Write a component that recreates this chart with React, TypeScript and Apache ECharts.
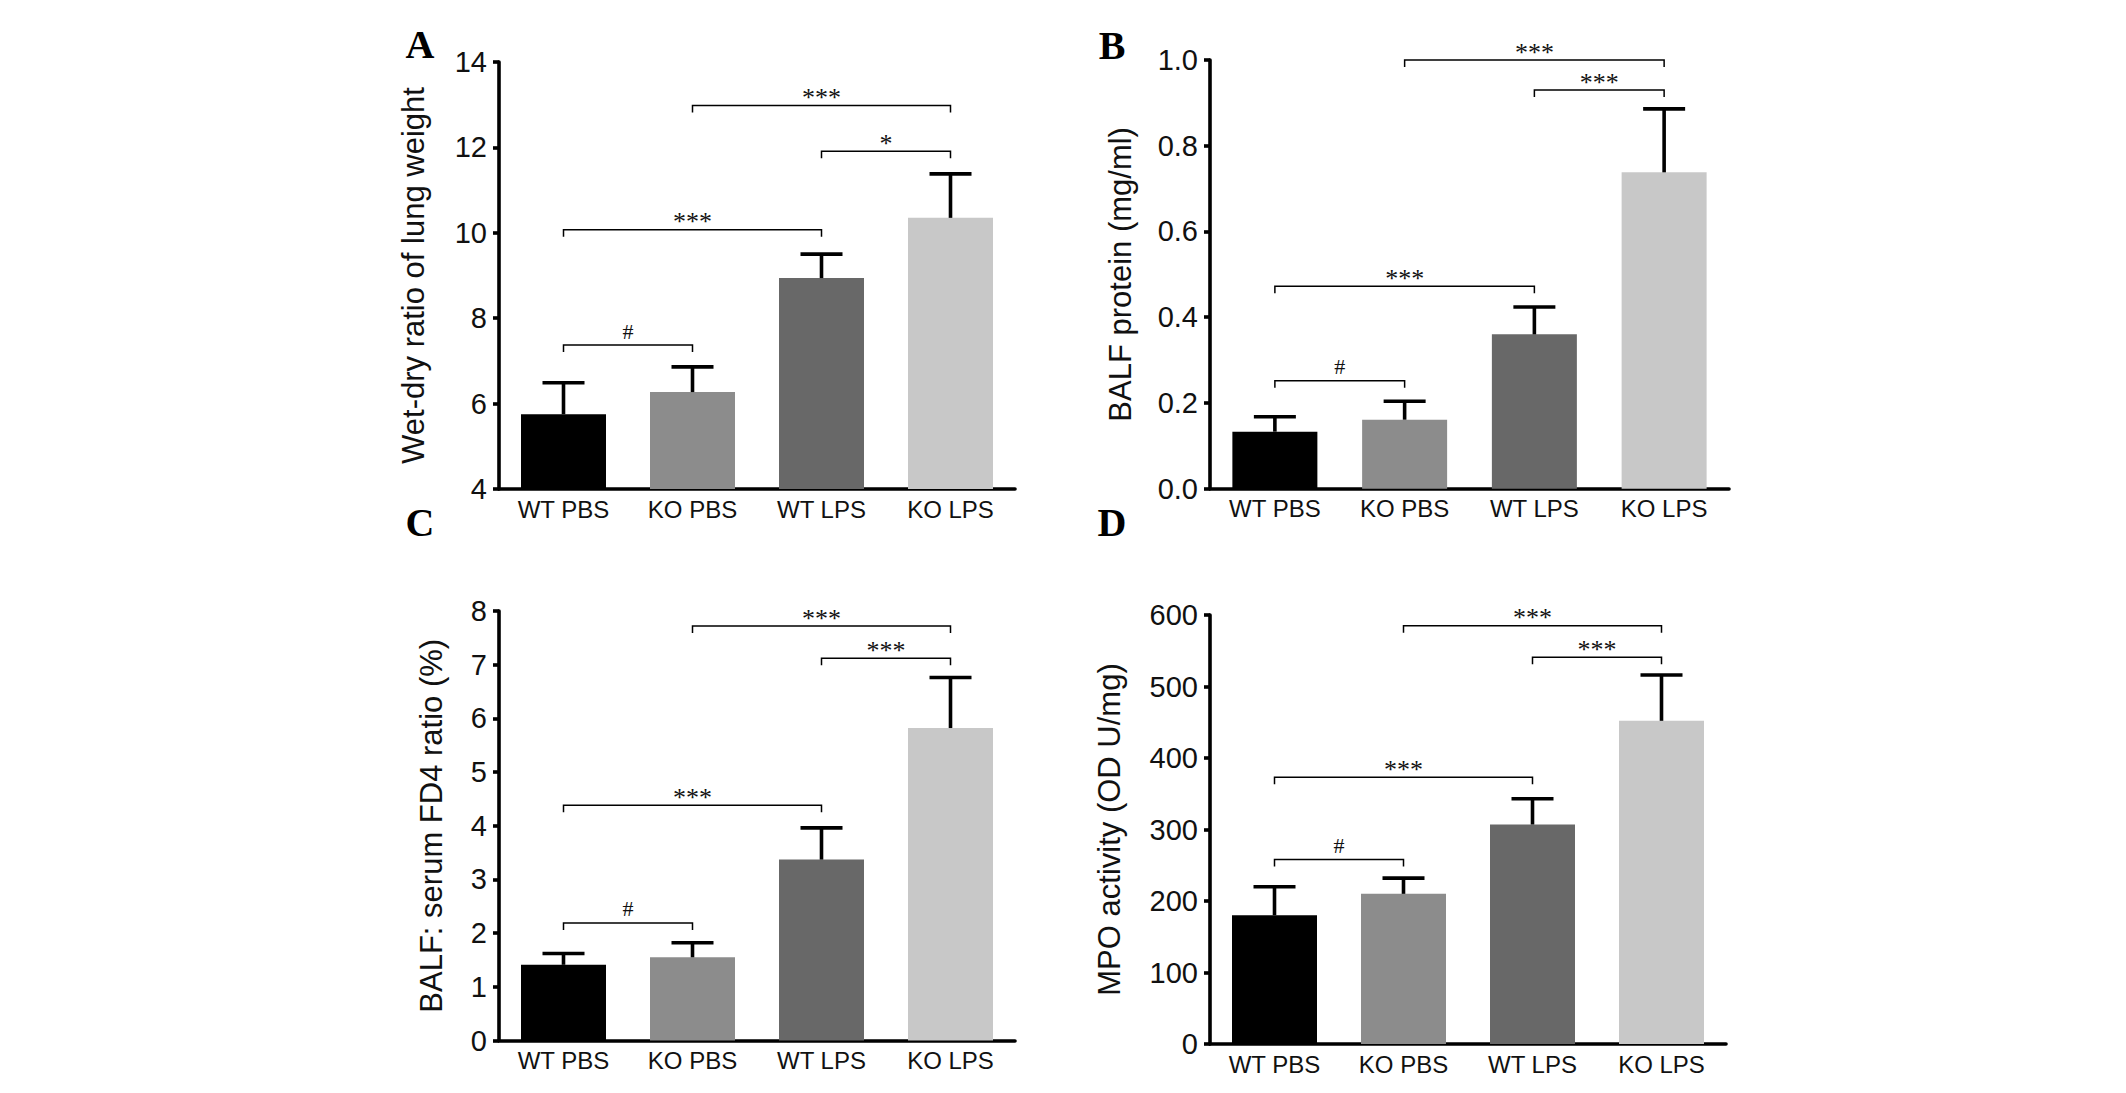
import React, { useEffect, useRef } from "react";
import * as echarts from "echarts";

const categories = ["WT PBS", "KO PBS", "WT LPS", "KO LPS"];
const barColors = ["#000000", "#8c8c8c", "#686868", "#c8c8c8"];

// Panel A: wet-dry ratio
const wetDryMeans = [5.75, 6.27, 8.94, 10.35];
const wetDryErrors = [0.74, 0.59, 0.56, 1.03];
const wetDryBrackets: [number, number, number, string][] = [
  [0, 1, 7.37, "#"],
  [0, 2, 10.07, "***"],
  [2, 3, 11.91, "*"],
  [1, 3, 12.98, "***"],
];
const wetDryTicks = { min: 4, max: 14, interval: 2 };

// Panel B: BALF protein
const balfMeans = [0.133, 0.161, 0.36, 0.738];
const balfErrors = [0.035, 0.043, 0.064, 0.148];
const balfBrackets: [number, number, number, string][] = [
  [0, 1, 0.252, "#"],
  [0, 2, 0.472, "***"],
  [2, 3, 0.93, "***"],
  [1, 3, 1.0, "***"],
];
const balfTicks = { min: 0, max: 1, interval: 0.2 };

// Panel C: BALF:serum FD4 ratio
const fd4Means = [1.41, 1.55, 3.37, 5.82];
const fd4Errors = [0.21, 0.27, 0.59, 0.94];
const fd4Brackets: [number, number, number, string][] = [
  [0, 1, 2.19, "#"],
  [0, 2, 4.38, "***"],
  [2, 3, 7.12, "***"],
  [1, 3, 7.72, "***"],
];
const fd4Ticks = { min: 0, max: 8, interval: 1 };

// Panel D: MPO activity
const mpoMeans = [180, 210, 307, 452];
const mpoErrors = [40, 22, 36, 64];
const mpoBrackets: [number, number, number, string][] = [
  [0, 1, 258, "#"],
  [0, 2, 373, "***"],
  [2, 3, 541, "***"],
  [1, 3, 585, "***"],
];
const mpoTicks = { min: 0, max: 600, interval: 100 };

const panelLetters = ["A", "B", "C", "D"];

const SANS = "'Liberation Sans', Arial, sans-serif";
const SERIF = "'Liberation Serif', 'Times New Roman', serif";

export default function App() {
  const ref = useRef<HTMLDivElement>(null);

  useEffect(() => {
    if (!ref.current) return;
    const chart = echarts.init(ref.current, undefined, { renderer: "svg" });

    const panels = [
      {
        grid: { left: 499, top: 62, width: 516, height: 427 },
        means: wetDryMeans,
        errors: wetDryErrors,
        brackets: wetDryBrackets,
        ticks: wetDryTicks,
        name: "Wet-dry ratio of lung weight",
        nameGap: 70,
        fmt: (v: number) => String(v),
        letterPos: [420, 44],
      },
      {
        grid: { left: 1210, top: 60, width: 519, height: 428.7 },
        means: balfMeans,
        errors: balfErrors,
        brackets: balfBrackets,
        ticks: balfTicks,
        name: "BALF protein (mg/ml)",
        nameGap: 74,
        fmt: (v: number) => v.toFixed(1),
        letterPos: [1112, 45],
      },
      {
        grid: { left: 499, top: 611, width: 516, height: 429.5 },
        means: fd4Means,
        errors: fd4Errors,
        brackets: fd4Brackets,
        ticks: fd4Ticks,
        name: "BALF: serum FD4 ratio (%)",
        nameGap: 52,
        fmt: (v: number) => String(v),
        letterPos: [420, 522],
      },
      {
        grid: { left: 1210, top: 615, width: 516, height: 429 },
        means: mpoMeans,
        errors: mpoErrors,
        brackets: mpoBrackets,
        ticks: mpoTicks,
        name: "MPO activity (OD U/mg)",
        nameGap: 85,
        fmt: (v: number) => String(v),
        letterPos: [1112, 522],
      },
    ];

    const grids: any[] = [];
    const xAxes: any[] = [];
    const yAxes: any[] = [];
    const series: any[] = [];
    const graphics: any[] = [];

    panels.forEach((p, i) => {
      grids.push({ ...p.grid, containLabel: false });
      xAxes.push({
        type: "category",
        gridIndex: i,
        data: categories,
        axisLine: { lineStyle: { color: "#000", width: 3.6 } },
        axisTick: { alignWithLabel: true, length: 13, lineStyle: { color: "#000", width: 3.6 } },
        axisLabel: { color: "#111", fontFamily: SANS, fontSize: 24, margin: 8 },
        splitLine: { show: false },
      });
      yAxes.push({
        type: "value",
        gridIndex: i,
        min: p.ticks.min,
        max: p.ticks.max,
        interval: p.ticks.interval,
        name: p.name,
        nameLocation: "middle",
        nameGap: p.nameGap,
        nameTextStyle: { color: "#111", fontFamily: SANS, fontSize: 31 },
        axisLine: { show: true, lineStyle: { color: "#000", width: 3.6 } },
        axisTick: { show: true, length: 6, lineStyle: { color: "#000", width: 3.6 } },
        axisLabel: { color: "#111", fontFamily: SANS, fontSize: 29, margin: 12, formatter: p.fmt },
        splitLine: { show: false },
      });
      series.push({
        type: "bar",
        xAxisIndex: i,
        yAxisIndex: i,
        barWidth: 85,
        data: p.means.map((v, k) => ({ value: v, itemStyle: { color: barColors[k] } })),
        z: 2,
      });
      series.push({
        type: "custom",
        xAxisIndex: i,
        yAxisIndex: i,
        z: 3,
        data: p.means.map((v, k) => [k, v, p.errors[k]]),
        renderItem: (params: any, api: any) => {
          const x = api.value(0);
          const m = api.value(1);
          const e = api.value(2);
          const p0 = api.coord([x, m]);
          const p1 = api.coord([x, m + e]);
          const half = 21;
          return {
            type: "group",
            children: [
              {
                type: "line",
                shape: { x1: p0[0], y1: p0[1], x2: p1[0], y2: p1[1] },
                style: { stroke: "#000", lineWidth: 3.6 },
              },
              {
                type: "line",
                shape: { x1: p1[0] - half, y1: p1[1], x2: p1[0] + half, y2: p1[1] },
                style: { stroke: "#000", lineWidth: 3.6 },
              },
            ],
          };
        },
      });
      const br = p.brackets;
      series.push({
        type: "custom",
        xAxisIndex: i,
        yAxisIndex: i,
        z: 4,
        clip: false,
        data: br.map((b) => [b[0], b[1], b[2]]),
        renderItem: (params: any, api: any) => {
          const a = api.coord([api.value(0), api.value(2)]);
          const b = api.coord([api.value(1), api.value(2)]);
          const label = br[params.dataIndex][3];
          const drop = 7;
          const isHash = label === "#";
          return {
            type: "group",
            children: [
              {
                type: "polyline",
                shape: {
                  points: [
                    [a[0], a[1] + drop],
                    [a[0], a[1]],
                    [b[0], b[1]],
                    [b[0], b[1] + drop],
                  ],
                },
                style: { stroke: "#000", lineWidth: 1.5, fill: "none" },
              },
              {
                type: "text",
                style: {
                  text: label,
                  x: (a[0] + b[0]) / 2,
                  y: a[1] + (isHash ? -3 : 5),
                  align: "center",
                  verticalAlign: "bottom",
                  font: `${isHash ? 22 : 26}px ${SERIF}`,
                  fill: "#111",
                },
              },
            ],
          };
        },
      });
      graphics.push({
        type: "text",
        x: p.letterPos[0],
        y: p.letterPos[1],
        style: {
          text: panelLetters[i],
          font: `bold 40px ${SERIF}`,
          fill: "#000",
          align: "center",
          verticalAlign: "middle",
        },
      });
    });

    chart.setOption({
      animation: false,
      backgroundColor: "#ffffff",
      grid: grids,
      xAxis: xAxes,
      yAxis: yAxes,
      series,
      graphic: graphics,
    });

    return () => chart.dispose();
  }, []);

  return (
    <div
      ref={ref}
      style={{ position: "fixed", left: 0, top: 0, width: 2126, height: 1093, background: "#fff" }}
    />
  );
}
